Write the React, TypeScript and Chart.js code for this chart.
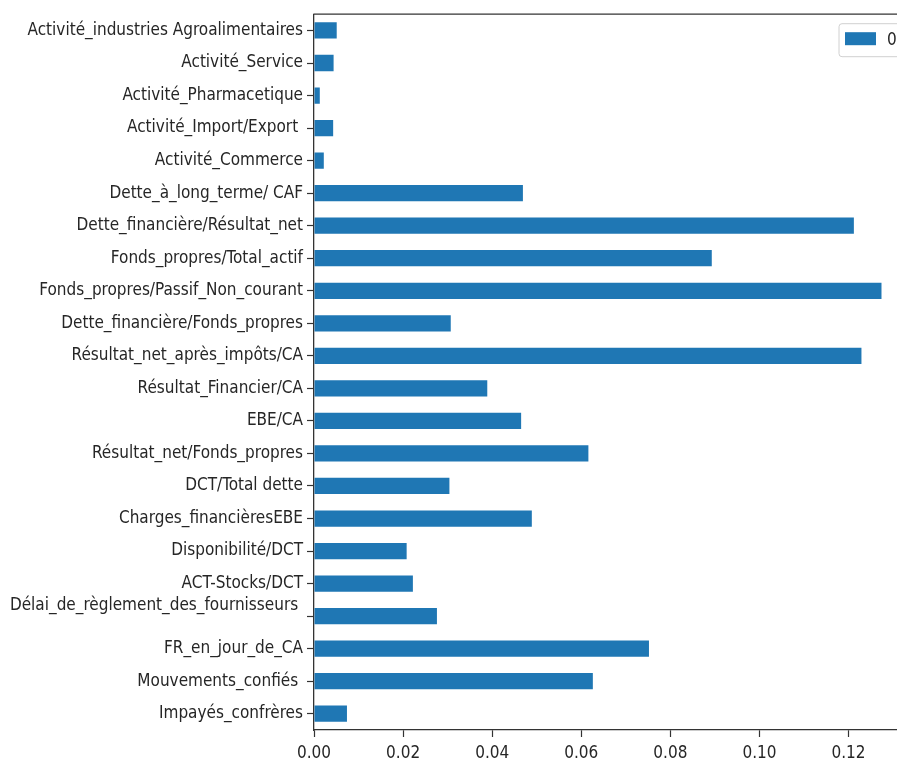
import React, { useEffect, useRef } from "react";
import { Chart, registerables } from "chart.js";

Chart.register(...registerables);

// Ratio names, listed top to bottom as they appear on the vertical axis.
const categories: string[] = [
  "Activité_industries Agroalimentaires",
  "Activité_Service",
  "Activité_Pharmacetique",
  "Activité_Import/Export ",
  "Activité_Commerce",
  "Dette_à_long_terme/ CAF",
  "Dette_financière/Résultat_net",
  "Fonds_propres/Total_actif",
  "Fonds_propres/Passif_Non_courant",
  "Dette_financière/Fonds_propres",
  "Résultat_net_après_impôts/CA",
  "Résultat_Financier/CA",
  "EBE/CA",
  "Résultat_net/Fonds_propres",
  "DCT/Total dette",
  "Charges_financièresEBE",
  "Disponibilité/DCT",
  "ACT-Stocks/DCT",
  "Délai_de_règlement_des_fournisseurs \n",
  "FR_en_jour_de_CA",
  "Mouvements_confiés ",
  "Impayés_confrères",
];

// Importance score of each ratio (single series named "0").
const seriesName = "0";
const importance: number[] = [
  0.0051, 0.0044, 0.0013, 0.0043, 0.0022, 0.0469, 0.1212, 0.0893, 0.1274,
  0.0307, 0.1229, 0.0389, 0.0465, 0.0616, 0.0304, 0.0489, 0.0208, 0.0222,
  0.0276, 0.0752, 0.0626, 0.0074,
];

// Horizontal axis ticks and range.
const xTicks: number[] = [0, 0.02, 0.04, 0.06, 0.08, 0.1, 0.12];
const xMin = 0;
const xMax = 0.1338;

const BAR_COLOR = "#1f77b4";
const SPINE_COLOR = "#333333";
const TEXT_COLOR = "#262626";
const FONT_FAMILY =
  "'DejaVu Sans Condensed', 'Liberation Sans Narrow', 'DejaVu Sans', sans-serif";

// Top spine of the axes box.
const topSpine = {
  id: "topSpine",
  afterDraw(chart: Chart) {
    const { ctx, chartArea } = chart;
    ctx.save();
    ctx.strokeStyle = SPINE_COLOR;
    ctx.lineWidth = 1.3;
    ctx.beginPath();
    ctx.moveTo(chartArea.left - 0.65, chartArea.top);
    ctx.lineTo(chartArea.right, chartArea.top);
    ctx.stroke();
    ctx.restore();
  },
};

// Framed legend in the upper right corner of the plot.
const cornerLegend = {
  id: "cornerLegend",
  afterDraw(chart: Chart) {
    const { ctx, chartArea } = chart;
    const ds = chart.data.datasets[0];
    const label = String(ds.label ?? "");
    ctx.save();
    ctx.font = `17px ${FONT_FAMILY}`;
    const pad = 6;
    const handle = 31;
    const gap = 11;
    const boxW = 65;
    const boxH = 33;
    const x = chartArea.right - 6 - boxW;
    const y = chartArea.top + 9.5;
    const r = 3;
    ctx.fillStyle = "rgba(255,255,255,0.8)";
    ctx.strokeStyle = "#d0d0d0";
    ctx.lineWidth = 1;
    ctx.beginPath();
    ctx.moveTo(x + r, y);
    ctx.lineTo(x + boxW - r, y);
    ctx.quadraticCurveTo(x + boxW, y, x + boxW, y + r);
    ctx.lineTo(x + boxW, y + boxH - r);
    ctx.quadraticCurveTo(x + boxW, y + boxH, x + boxW - r, y + boxH);
    ctx.lineTo(x + r, y + boxH);
    ctx.quadraticCurveTo(x, y + boxH, x, y + boxH - r);
    ctx.lineTo(x, y + r);
    ctx.quadraticCurveTo(x, y, x + r, y);
    ctx.closePath();
    ctx.fill();
    ctx.stroke();
    ctx.fillStyle = String(ds.backgroundColor);
    ctx.fillRect(x + pad, y + 8.5, handle, 13);
    ctx.fillStyle = TEXT_COLOR;
    ctx.textBaseline = "middle";
    ctx.textAlign = "left";
    ctx.fillText(label, x + pad + handle + gap, y + boxH / 2 + 0.5);
    ctx.restore();
  },
};

export default function App() {
  const canvasRef = useRef<HTMLCanvasElement | null>(null);

  useEffect(() => {
    const canvas = canvasRef.current;
    if (!canvas) return;
    const tickFont = { family: FONT_FAMILY, size: 17 };
    const chart = new Chart(canvas, {
      type: "bar",
      data: {
        labels: categories,
        datasets: [
          {
            label: seriesName,
            data: importance,
            backgroundColor: BAR_COLOR,
            borderWidth: 0,
            categoryPercentage: 1,
            barPercentage: 0.5,
          },
        ],
      },
      options: {
        indexAxis: "y",
        responsive: false,
        animation: false,
        devicePixelRatio: 1,
        layout: { padding: { top: 13, left: 0, right: 2, bottom: 0 } },
        plugins: {
          legend: { display: false },
          tooltip: { enabled: false },
        },
        scales: {
          x: {
            type: "linear",
            position: "bottom",
            min: xMin,
            max: xMax,
            grid: {
              drawOnChartArea: false,
              drawTicks: true,
              tickLength: 7,
              tickColor: SPINE_COLOR,
              tickWidth: 1.2,
            },
            border: { display: true, color: SPINE_COLOR, width: 1.3 },
            ticks: {
              font: tickFont,
              color: TEXT_COLOR,
              padding: 6,
              maxRotation: 0,
              autoSkip: false,
              callback: (v: any) => Number(v).toFixed(2),
            },
            afterBuildTicks: (scale: any) => {
              scale.ticks = xTicks.map((v) => ({ value: v }));
            },
            afterFit: (scale: any) => {
              scale.height = 32;
            },
          },
          y: {
            type: "category",
            position: "left",
            grid: {
              offset: false,
              drawOnChartArea: false,
              drawTicks: true,
              tickLength: 7,
              tickColor: SPINE_COLOR,
              tickWidth: 1.2,
            },
            border: { display: true, color: SPINE_COLOR, width: 1.3 },
            ticks: {
              font: tickFont,
              color: TEXT_COLOR,
              padding: 4,
              autoSkip: false,
              callback: function (this: any, value: any) {
                const lbl = String(this.getLabelForValue(value));
                return lbl.includes("\n") ? lbl.split("\n") : lbl;
              },
            },
            afterFit: (scale: any) => {
              scale.width = 314;
            },
          },
        },
      },
      plugins: [topSpine, cornerLegend],
    });
    return () => chart.destroy();
  }, []);

  return (
    <div
      style={{
        position: "fixed",
        top: 0,
        left: 0,
        width: 897,
        height: 762,
        overflow: "hidden",
        background: "#ffffff",
      }}
    >
      <canvas ref={canvasRef} width={912} height={762} style={{ display: "block" }} />
    </div>
  );
}
